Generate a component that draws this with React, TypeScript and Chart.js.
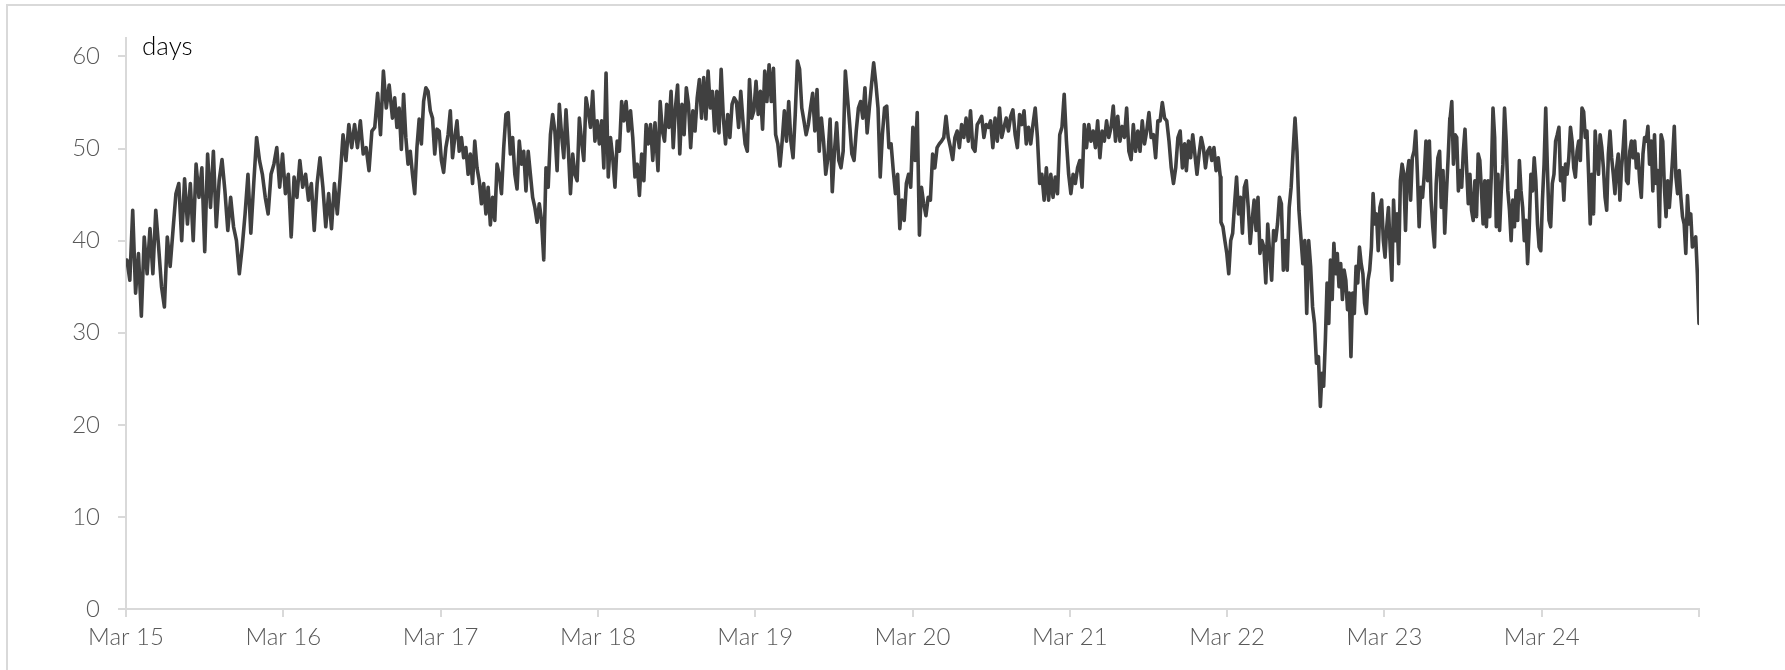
import React, { useEffect, useRef } from "react";
import { Chart, registerables } from "chart.js";

Chart.register(...registerables);

// Weekly-ish readings of the series, grouped by stretch of time (decimal years)
const seg2015 = [37.9,35.7,43.3,34.3,38.6,31.8,40.4,36.4,41.3,36.4,43.3,39.3,35,32.8,40.4,37.2,41.2,45.1,46.2,40,46.7,41.8,46.2,40,48.3,44.7,47.9,38.8,49.4,43.6,49.7,41.5,46.5,48.8,45.4,41.1,44.7,41.5,40,36.4,39.3,42.9,47.2,40.8,46.2,51.2,48.7,47.2,44.7,42.9,47.2,48.3,50.1,45.8,49.4,45.1,47.2,40.4,46.9,44.7,48.7,45.8,47.2,44.4,46.2,41.1,46.2,49,45.8,41.5,45.1,41.3,46.2,42.9,46.9,51.5,48.7,52.6,50.1,52.6,50.1,53,49.4,50.1,47.6,51.9,52.3,56,51.5,58.4,54.4,56.9];
const seg2017 = [53.3,55.5,52.3,54.4,49.9,55.9,51.2,48.3,49.7,47.2,45.1,50.1,53.2,50.5,55.1,56.6,56.2,54.1,53.3,49.4,52.1,51.9,48.7,47.4,50.1,51.5,54.1,49,51.2,53,49.7,51.2,49,50.1,47.2,49.4,46.2,50.8,47.9,46.5,44,46.2,42.9,45.8,41.7,44.7,42.2,48.3,47.2,45.1,50.1,53.7,53.9,49.4,51.2,47.2,45.6,50.8,48.3,49.7,45.4,49.7,47.2,44.7,43.6,42,44,42.2,37.9,47.9,45.8,51.5,53.7,51.9,47.6,54.8,51.5,49,54.2,50.1,45.1,49.4,47.2,46.5,53.3,50.8,48.7,55.5,54.1,52.3,56.2,50.8,53,50.5,53,47.9,58.2,46.9,51.2,49,45.8,50.8,49.7,55.1,53,55.1,51.9,54.1,51.2,46.9,48.3,44.9,49.4,46.5,52.6,50.5,52.6,48.7,52.8];
const seg2018 = [47.6,55.1,51.9,50.8,54.8,52.3,56.2,50.1,54.4,56.9,49.4,54.8,51.5,56.6,54.8,50.1,54.1,51.9,55.5,57.5,53.3,57.7,53.2,58.4,54.4,56.2,51.9,56.2,51.7,58.6,53.3,50.5,53.7,51.2,54.8,55.5,55.1,52.3,56.2,53,50.5,49.7,57.5,53.3,54.1,57.3,53.7,56.2,52.1,58.4,55.1,59.1,55.1,58.7,51.5,50.5,48.1,50.8,54.1,50.8,55.1,50.8,49,53.7,59.5,58.6,54.4,53,51.5,52.6,54.4,56,51.9,56.4,49.7,53.3,50.8,47.2,49,53.2,45.3,49.7,52.8,48.7,47.9,49.7,58.4,55.5,52.6,49.4,48.7,51.9,54.4,55.1,53.3,56.6,51.7,54.4,56.9,59.3,57.1,54.4,46.9,51.5,54.4,54.6,50.1,50.5,47.6,45.1,47.2,41.3,44.4,42.2,46.2,47.2,45.8,52.3,48.7,53.9,40.6];
const seg2020 = [45.8,44,42.7,44.7,44.4,49.4,47.9,50.1,50.5,50.8,51.2,53.5,51.2,50.1,48.8,51.2,51.9,50.1,52.6,51.2,53.3,50.8,54.1,50.1,49.7,52.6,53,53.5,51.2,52.6,52.3,53,50.1,53.3,50.8,54.4,51.2,52.3,53.3,51.9,53.5,54.2,51.5,50.1,53.7,52.6,54.1,50.5,52.3,50.5,52.6,54.4,51.2,46.2,47.2,44.4,47.9,44.4,47.2,44.7,46.9,45.1,51.5,52.3,55.9,50.8,47.2,45.1,47.2,46.2,47.9,48.7,45.8,52.6,50.1,52.6,50.8,51.9,50.1,53,49,51.9,50.8,53,51.2,52.3,54.6,50.8,53.5,50.8,52.4,51.2,54.4,49.7,48.8,52.6,49.7,51.9,49.7,53,50.5,51.9,53.9,51.2,51.5,49,53,53,55,53.3,53,50.8,47.9,46.2,47.9,51.2,51.9,47.9,50.5];
const seg2021end = [47.6,50.8,49,51.5,49.4,47.2,49.4,51.2,50.1,47.9,49.7,50.1,48.7,50.1,47.6,49,46.9];
const seg2022 = [42,41.5,40,38.6,36.4,40,40.8,44,46.9,42.9,44.7,40.8,45.8,46.5,43.6,39.7,42.2,44.4,41.1,44.7,38.6,40,39.3,35.4,41.8,38.6,35.7,41.1,40,41.8,44.7,44,36.8,40,36.8,43.6,45.8,49.7,53.3,49.7,43.3,40.4,37.5,40,32.1,40,37.2,32.8,31,26.7,27.4,22];
const seg2022end = [25.6,24.2,29.2,35.4,31,37.9,33.6,39.7,36.4,38.6,35,37.5,33.6,36.8,35.7,32.5,34.3,27.4,34.3,32.1,37.2,35.4,39.3,37.5,36.4,33.2,32.1,35.7,36.8,39.3,45.1,41.8,42.9,38.9,43.6,44.4,40,38.2,41.5,43.6,39.3,35.7,44.4,40,42.9,37.5,46.5,48.3,47.2,41.1,47.2,48.7,44.4,49,49.7,51.9,47.2,41.5,45.8,44.7,47.2,50.8,46.5,50.8,44.4,41.5,39.3,46.2,49,49.7,43.6,47.6,40.8,45.1,49,53.3];
const seg2023 = [53.3,55.1,48.3,51.5,51.2,45.4,47.6,45.8,49.7,52.1,47.9,44,47.2,43.3,42.2,46.5,42.6,49.4,48.7,45.4,41.8,46.5,41.5,46.5,42.6,47.2,54.4,51.2,41.5,47.2,41.1,45.4,48.3,54.4,50.8,45.4,43.3,40,44.4,41.5,45.4,42.2,48.7,45.4,43.6,40,42.2,37.5,41.5,47.2,45.4,49,46.5,41.8,39.3,38.9,44.4,48.3,54.4,47.9,42.2,41.5,46.2,47.2,50.8,51.5,52.3,46.5,47.9,44.4,48.3,47.2,49,52.3,50.8,47.9,46.9,49.7,50.8,48.7,54.4,54,51.2,51.9,47.2,41.8,47.2,42.9,51.9,49,47.2,51.5,50.1,47.9,44.7,43.3,49.4,51.9,49,47.2,45.1,47.9,49.4,44.4,47.9,50.1,53,46.5,46.2,49.7,50.8,49,50.8,47.9,49.4,46.5,44.7,49.4,51.2,50.8,52.4,48.3,50.8,45.4,51.5,46.2,47.6,41.5,51.5,50.8,45.8,42.6,46.5,43.6,46.2,49,52.4,46.9,45.1,47.6,44.7,42.6,41.8,38.6,44.9,41.8,42.9,39.3,40,40.4,36.4,31];

// Time span (decimal years) covered by each stretch of readings
const segStart = [2015.173, 2016.861, 2018.549, 2020.224, 2021.908, 2022.128, 2022.770, 2023.585];
const segEnd = [2016.840, 2018.530, 2020.211, 2021.897, 2022.124, 2022.760, 2023.583, 2025.167];
const segValues = [seg2015, seg2017, seg2018, seg2020, seg2021end, seg2022, seg2022end, seg2023];

const xTickLabels = ["Mar 15", "Mar 16", "Mar 17", "Mar 18", "Mar 19", "Mar 20", "Mar 21", "Mar 22", "Mar 23", "Mar 24", ""];
const xAxisStart = 2015.167;
const yTicks = [0, 10, 20, 30, 40, 50, 60];
const unitLabel = "days";

const FONT = "Lato, 'Open Sans', 'DejaVu Sans', sans-serif";

export default function App() {
  const ref = useRef<HTMLCanvasElement | null>(null);

  useEffect(() => {
    const points: { x: number; y: number }[] = [];
    segValues.forEach((vals, s) => {
      const a = segStart[s];
      const b = segEnd[s];
      vals.forEach((v, i) => {
        points.push({ x: a + (vals.length > 1 ? (i * (b - a)) / (vals.length - 1) : 0), y: v });
      });
    });

    const unitPlugin = {
      id: "unitLabel",
      afterDraw(chart: any) {
        const { ctx, chartArea } = chart;
        ctx.save();
        ctx.font = `300 26px ${FONT}`;
        ctx.fillStyle = "#000000";
        ctx.textAlign = "left";
        ctx.textBaseline = "alphabetic";
        ctx.fillText(unitLabel, chartArea.left + 16, chartArea.top + 17);
        ctx.restore();
      },
    };

    const chart = new Chart(ref.current as HTMLCanvasElement, {
      type: "line",
      data: {
        datasets: [
          {
            data: points,
            borderColor: "#404040",
            borderWidth: 3.6,
            pointRadius: 0,
            tension: 0,
            borderCapStyle: "round",
            borderJoinStyle: "round",
          },
        ],
      },
      options: {
        animation: false,
        responsive: false,
        layout: { padding: { top: 38, right: 86, bottom: 0, left: 0 } },
        plugins: { legend: { display: false }, tooltip: { enabled: false } },
        scales: {
          x: {
            type: "linear",
            min: xAxisStart,
            max: xAxisStart + xTickLabels.length - 1,
            afterBuildTicks: (axis: any) => {
              axis.ticks = xTickLabels.map((_, i) => ({ value: xAxisStart + i }));
            },
            afterFit: (scale: any) => {
              scale.height = 61;
            },
            ticks: {
              autoSkip: false,
              maxRotation: 0,
              padding: 6,
              color: "#595959",
              font: { family: FONT, size: 24, weight: "300" as any },
              callback: (_v: any, i: number) => xTickLabels[i],
            },
            grid: { drawOnChartArea: false, drawTicks: true, tickLength: 8, color: "#d9d9d9", lineWidth: 2 },
            border: { display: true, color: "#d9d9d9", width: 2 },
          },
          y: {
            min: 0,
            max: 62,
            afterBuildTicks: (axis: any) => {
              axis.ticks = yTicks.map((v) => ({ value: v }));
            },
            afterFit: (scale: any) => {
              scale.width = 126;
            },
            ticks: {
              padding: 18,
              color: "#595959",
              font: { family: FONT, size: 24, weight: "300" as any },
              callback: (v: any) => String(v),
            },
            grid: { drawOnChartArea: false, drawTicks: true, tickLength: 8, color: "#d9d9d9", lineWidth: 2 },
            border: { display: true, color: "#d9d9d9", width: 2 },
          },
        },
      },
      plugins: [unitPlugin],
    });

    return () => chart.destroy();
  }, []);

  return (
    <div style={{ position: "fixed", left: 0, top: 0, width: 1785, height: 670, background: "#ffffff" }}>
      <div
        style={{
          position: "absolute",
          left: 6,
          top: 4,
          width: 1779,
          height: 666,
          borderTop: "2px solid #d9d9d9",
          borderLeft: "2px solid #d9d9d9",
          boxSizing: "border-box",
        }}
      />
      <canvas ref={ref} width={1785} height={670} style={{ position: "absolute", left: 0, top: 0, width: 1785, height: 670 }} />
    </div>
  );
}
